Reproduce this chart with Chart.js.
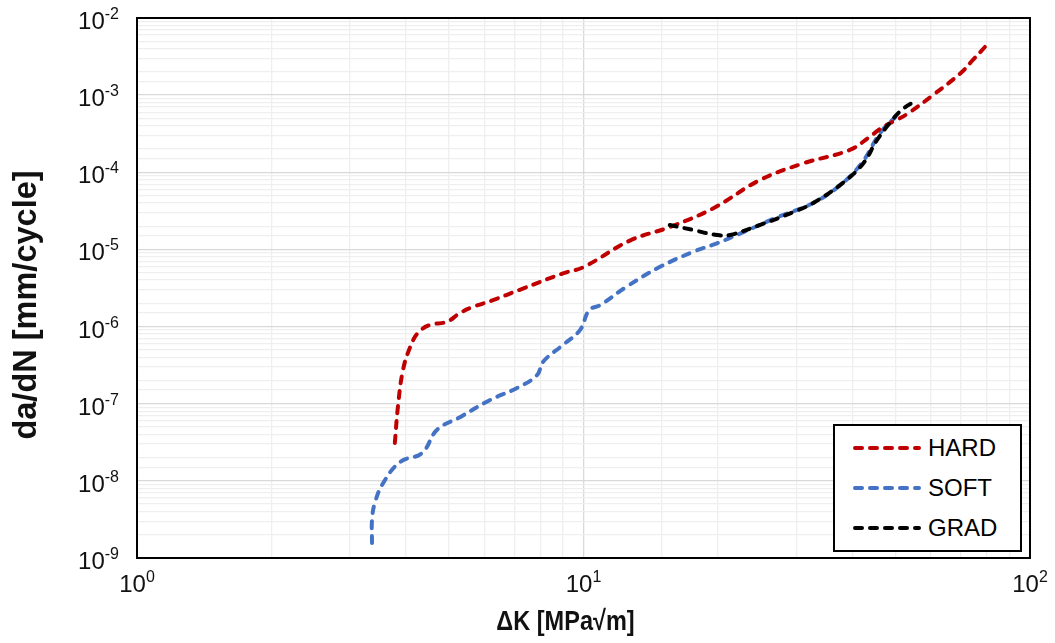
<!DOCTYPE html>
<html>
<head>
<meta charset="utf-8">
<script src="https://cdn.jsdelivr.net/npm/chart.js@4.4.1/dist/chart.umd.min.js"></script>
<style>
  html, body { margin: 0; padding: 0; background: #fff; }
  #wrap { position: relative; width: 1055px; height: 643px; }
  #legend {
    position: absolute; left: 833px; top: 424px; width: 185px; height: 122px;
    border: 2px solid #000; background: #fff;
    font-family: "Liberation Sans", Arial, sans-serif; font-size: 24px; color: #000;
    padding-top: 2px;
  }
  .row { display: flex; align-items: center; height: 40px; padding-left: 17px; }
  .row svg { margin-right: 6px; }
</style>
</head>
<body>
<div id="wrap">
  <canvas id="chart" width="1055" height="643"></canvas>
  <div id="legend"></div>
</div>
<script>
// series names and colours
const seriesNames = ["HARD", "SOFT", "GRAD"];
const seriesColors = ["#C00000", "#4472C4", "#000000"];

// HARD
const hardK = [3.78, 3.84, 3.94, 4.09, 4.26, 4.53, 4.94, 5.29, 5.66, 6.27, 7.2, 9.0, 10.0, 12.7, 15.6, 19.5, 24.8, 31, 39.5, 43.8, 46.9, 50.4, 53.8, 60.6, 69.7, 74.5, 80.1];
const hardRate = [3.1e-8, 9.1e-8, 2.7e-7, 5.4e-7, 8.3e-7, 1.05e-6, 1.15e-6, 1.5e-6, 1.8e-6, 2.2e-6, 3.0e-6, 4.9e-6, 5.9e-6, 1.3e-5, 1.95e-5, 3.4e-5, 7.9e-5, 1.3e-4, 1.95e-4, 2.9e-4, 3.9e-4, 4.8e-4, 6.0e-4, 1.0e-3, 1.9e-3, 2.86e-3, 4.5e-3];

// SOFT
const softK = [3.36, 3.36, 3.41, 3.56, 3.88, 4.35, 4.70, 5.29, 6.18, 7.10, 7.87, 8.12, 9.0, 9.82, 10.3, 10.9, 12.5, 14.8, 17.6, 19.9, 22.4, 27.1, 32.7, 38.1, 42.3, 46.1, 49.9];
const softRate = [1.56e-9, 3.1e-9, 5.2e-9, 9.4e-9, 1.75e-8, 2.3e-8, 4.6e-8, 6.7e-8, 1.12e-7, 1.6e-7, 2.35e-7, 3.5e-7, 5.8e-7, 9.0e-7, 1.64e-6, 1.9e-6, 3.3e-6, 5.9e-6, 9.3e-6, 1.2e-5, 1.6e-5, 2.6e-5, 4.0e-5, 7.3e-5, 1.4e-4, 3.2e-4, 5.2e-4];

// GRAD
const gradK = [15.6, 17.5, 19.9, 21.3, 24.8, 29.5, 32.7, 38.1, 42.3, 45.4, 48.6, 51.7, 55.8];
const gradRate = [2.07e-5, 1.8e-5, 1.54e-5, 1.54e-5, 2.07e-5, 3.05e-5, 4.0e-5, 7.3e-5, 1.3e-4, 2.6e-4, 4.4e-4, 6.5e-4, 8.6e-4];

// axis ranges and titles
const xRange = [1, 100];
const yRange = [1e-9, 1e-2];
const xTitle = "ΔK [MPa√m]";
const yTitle = "da/dN [mm/cycle]";

const FONT = "'Liberation Sans', Arial, sans-serif";

function isDecade(v) {
  const l = Math.log10(v);
  return Math.abs(l - Math.round(l)) < 1e-6;
}

function toPoints(xs, ys) {
  return xs.map((x, i) => ({ x, y: ys[i] }));
}

const series = [toPoints(hardK, hardRate), toPoints(softK, softRate), toPoints(gradK, gradRate)];
const drawOrder = [1, 2, 0];

const gridColor = (ctx) => (ctx.tick && isDecade(ctx.tick.value) ? "#d9d9d9" : "#efefef");

// "10" with a raised exponent; x is the right edge or the centre
function drawPower(ctx, value, x, y, align) {
  const exp = String(Math.round(Math.log10(value)));
  ctx.font = `24px ${FONT}`;
  const wBase = ctx.measureText("10").width;
  ctx.font = `16px ${FONT}`;
  const wExp = ctx.measureText(exp).width;
  const total = wBase + wExp;
  const left = align === "right" ? x - total : x - total / 2;
  ctx.textBaseline = "alphabetic";
  ctx.textAlign = "left";
  ctx.font = `24px ${FONT}`;
  ctx.fillText("10", left, y + 9);
  ctx.font = `16px ${FONT}`;
  ctx.fillText(exp, left + wBase, y - 1);
}

// frame, decade labels and axis titles
const decor = {
  id: "decor",
  afterDatasetsDraw(chart) {
    const { ctx, chartArea: a, scales } = chart;
    ctx.save();
    ctx.strokeStyle = "#000";
    ctx.lineWidth = 2;
    ctx.strokeRect(a.left, a.top, a.right - a.left, a.bottom - a.top);

    ctx.fillStyle = "#111";
    scales.y.ticks.forEach((t) => {
      if (isDecade(t.value)) drawPower(ctx, t.value, a.left - 18, scales.y.getPixelForValue(t.value) + 2, "right");
    });
    scales.x.ticks.forEach((t) => {
      if (isDecade(t.value)) drawPower(ctx, t.value, scales.x.getPixelForValue(t.value), a.bottom + 25, "center");
    });

    // x title, slightly condensed like the original
    ctx.save();
    ctx.textAlign = "center";
    ctx.textBaseline = "middle";
    ctx.font = `bold 28px ${FONT}`;
    ctx.translate((a.left + a.right) / 2 - 18, a.bottom + 64);
    ctx.scale(0.84, 1);
    ctx.fillText(xTitle, 0, 0);
    ctx.restore();

    ctx.textAlign = "center";
    ctx.textBaseline = "middle";
    ctx.translate(27, (a.top + a.bottom) / 2 + 17);
    ctx.rotate(-Math.PI / 2);
    ctx.font = `bold 32.5px ${FONT}`;
    ctx.fillText(yTitle, 0, 0);
    ctx.restore();
  },
};

new Chart(document.getElementById("chart"), {
  type: "line",
  data: {
    datasets: seriesNames.map((name, i) => ({
      label: name,
      data: series[i],
      borderColor: seriesColors[i],
      backgroundColor: seriesColors[i],
      borderWidth: 4,
      borderDash: [7, 8],
      borderCapStyle: "round",
      pointRadius: 0,
      tension: 0.4,
      fill: false,
      order: drawOrder[i],
    })),
  },
  options: {
    responsive: false,
    animation: false,
    layout: { padding: { left: 0, right: 25, top: 18, bottom: 0 } },
    plugins: { legend: { display: false }, tooltip: { enabled: false } },
    scales: {
      x: {
        type: "logarithmic",
        min: xRange[0],
        max: xRange[1],
        afterFit: (s) => { s.height = 85; },
        grid: { color: gridColor, lineWidth: 1.3, drawTicks: false },
        border: { display: false },
        ticks: { display: false, autoSkip: false },
      },
      y: {
        type: "logarithmic",
        min: yRange[0],
        max: yRange[1],
        afterFit: (s) => { s.width = 137; },
        grid: { color: gridColor, lineWidth: 1.3, drawTicks: false },
        border: { display: false },
        ticks: { display: false, autoSkip: false },
      },
    },
  },
  plugins: [decor],
});

// legend
const legend = document.getElementById("legend");
seriesNames.forEach((name, i) => {
  const row = document.createElement("div");
  row.className = "row";
  row.innerHTML =
    `<svg width="70" height="10"><line x1="3" y1="5" x2="67" y2="5" stroke="${seriesColors[i]}" stroke-width="4" stroke-dasharray="7 8" stroke-linecap="round"/></svg><span>${name}</span>`;
  legend.appendChild(row);
});
</script>
</body>
</html>
